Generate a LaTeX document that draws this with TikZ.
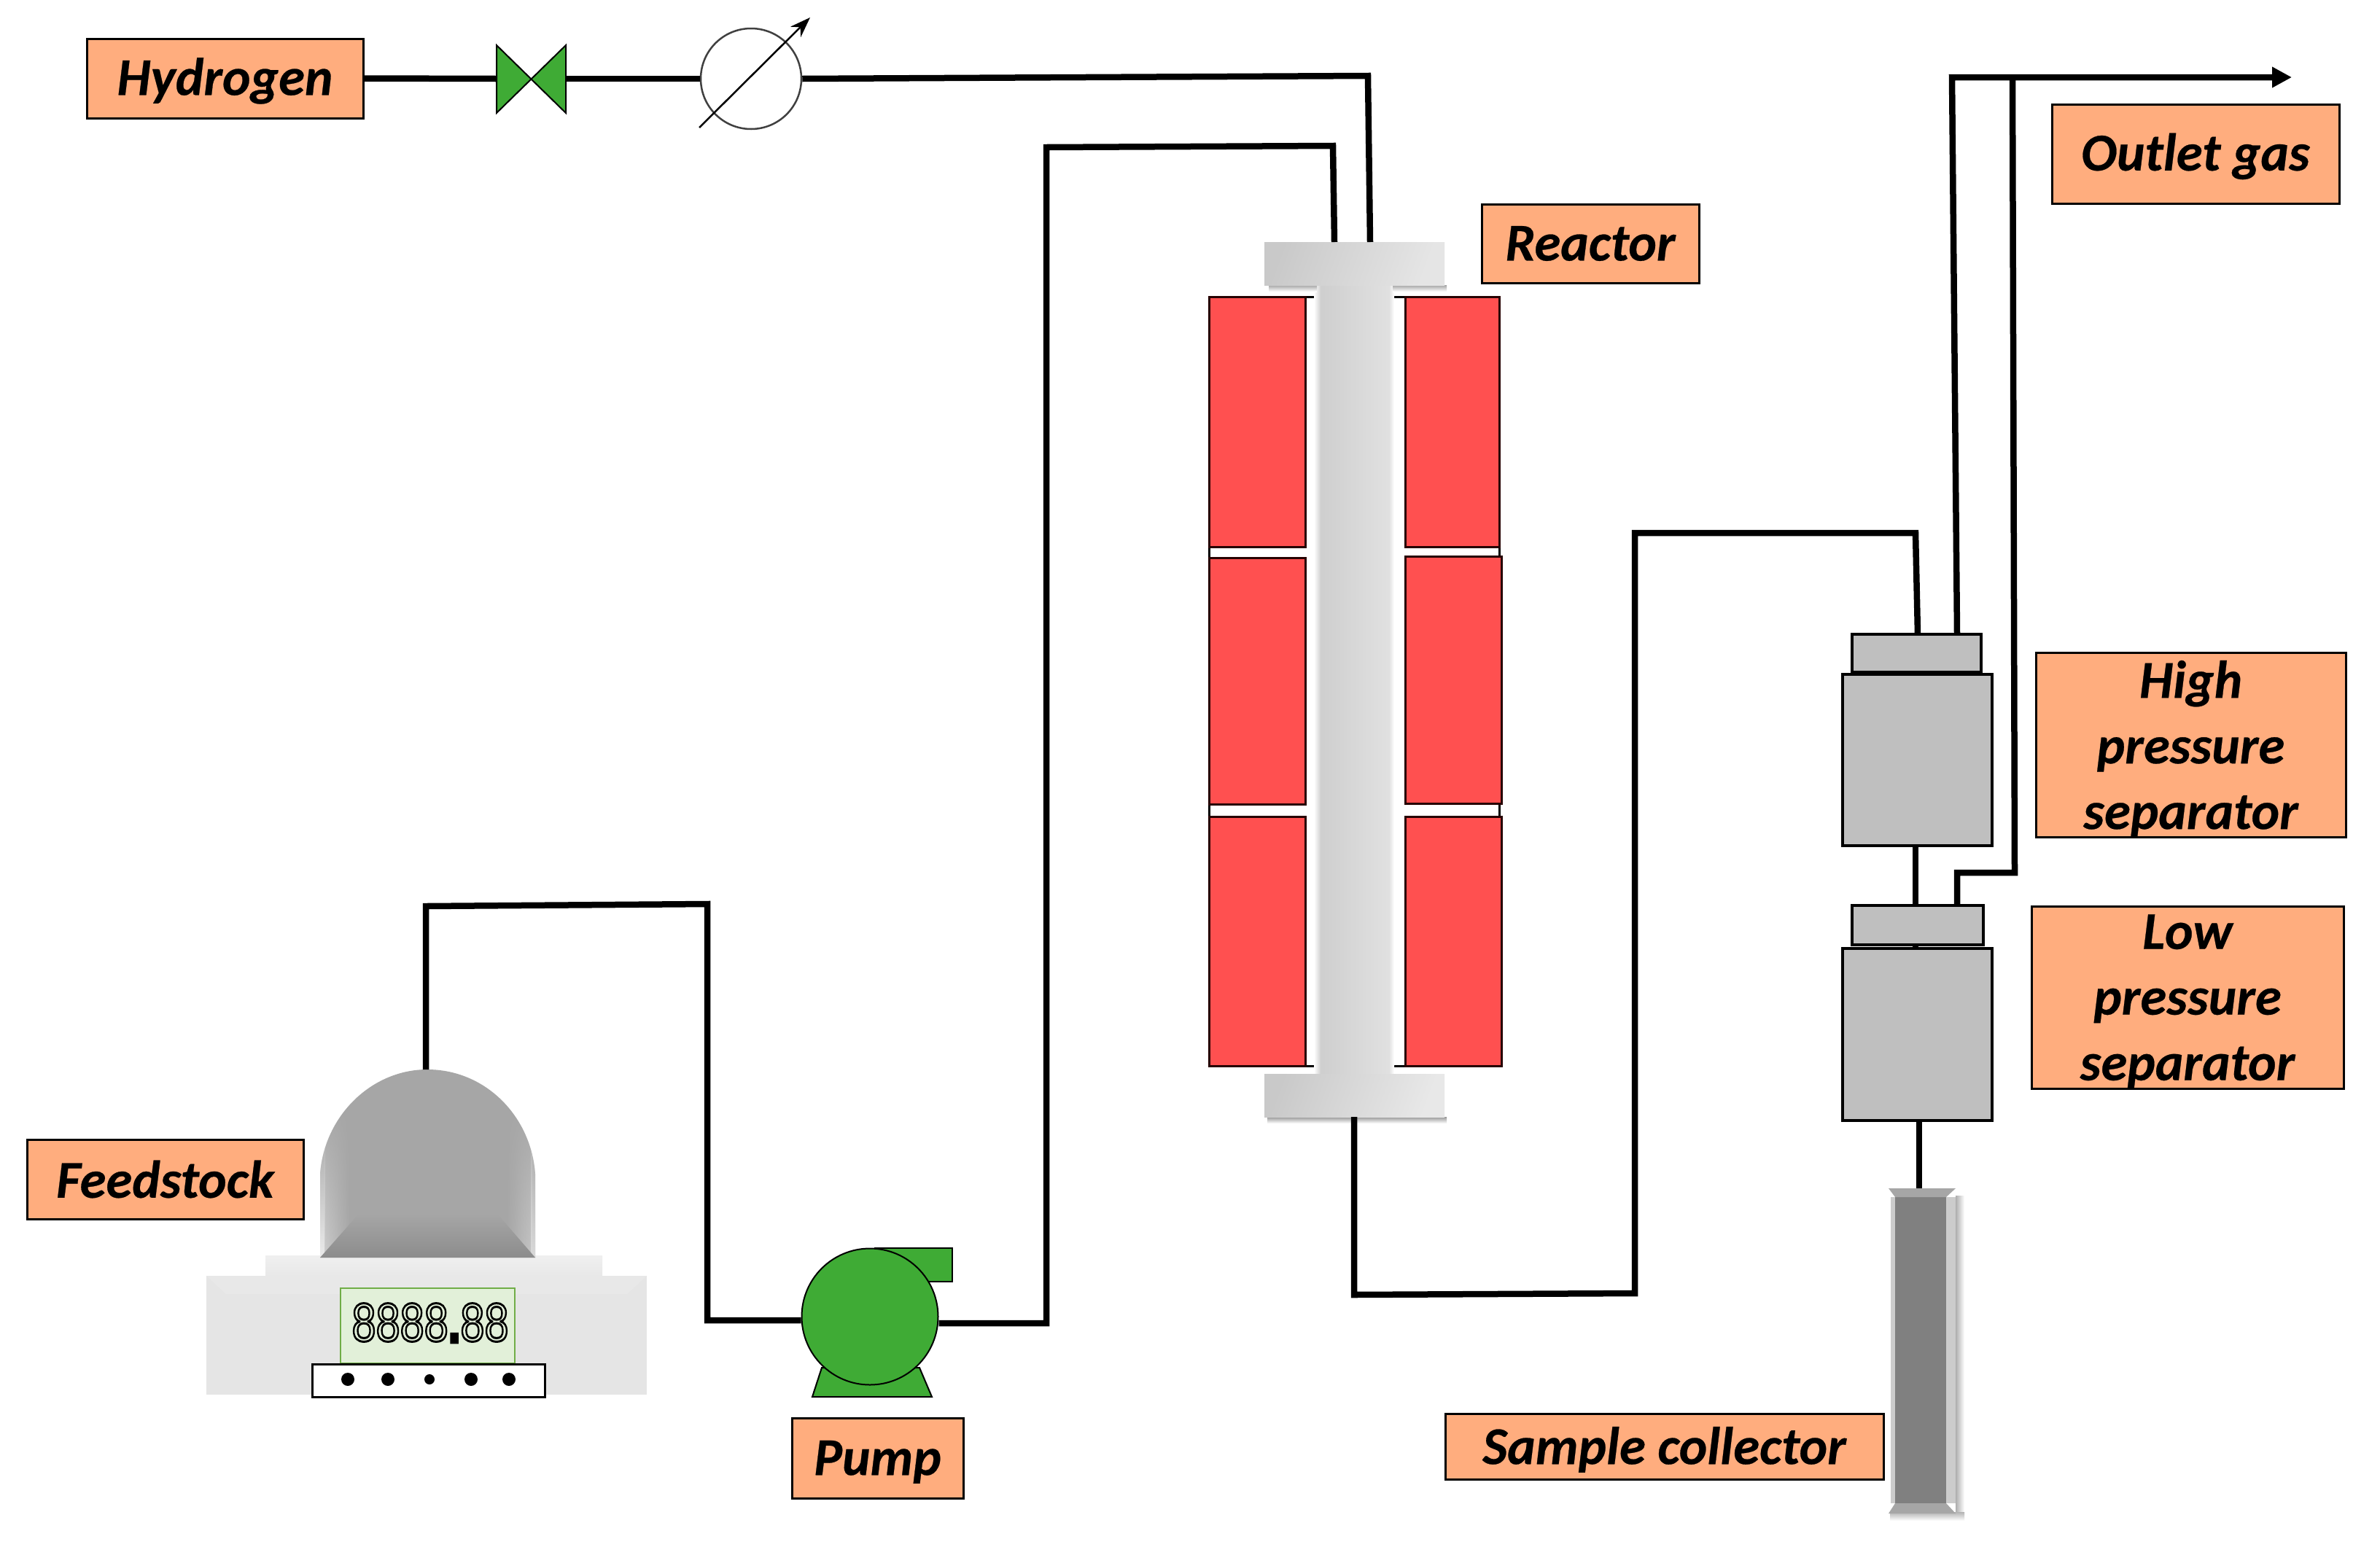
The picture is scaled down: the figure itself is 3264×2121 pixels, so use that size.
\documentclass[tikz,border=0pt]{standalone}
\usepackage{fontspec}
\usepackage{graphicx}
\setmainfont{Carlito}[BoldItalicFeatures={FakeBold=0.35}]
\newfontfamily\lcdfont{Liberation Sans}
\usetikzlibrary{arrows.meta,fit,calc,shapes.geometric,fadings}
\definecolor{labelfill}{HTML}{FFAD7E}
\definecolor{heater}{HTML}{FF5050}
\definecolor{greenpart}{HTML}{3FAB35}
\definecolor{sepgray}{HTML}{BFBFBF}
\definecolor{tankgray}{HTML}{A6A6A6}
\tikzset{
  lab/.style={draw=black,line width=3pt,fill=labelfill,inner sep=0pt,align=center,
     font=\fontsize{73}{90}\selectfont\bfseries\itshape},
  pipe/.style={draw=black,line width=8.5pt,line cap=butt,line join=miter},
  heat/.style={draw=black!85!red,line width=3pt,fill=heater,inner sep=0pt},
  sep/.style={draw=black,line width=4pt,fill=sepgray,inner sep=0pt},
  thin part/.style={draw=black,line width=2pt,fill=greenpart},
  plain/.style={inner sep=0pt,draw=none},
}
% label box given by its corners: name, x1, y1, x2, y2, first-line strut height, text
\newcommand{\labbox}[7]{%
  \pgfmathsetmacro{\lw}{#4-#2}\pgfmathsetmacro{\lh}{#5-#3}%
  \pgfmathsetmacro{\lx}{(#2+#4)/2}\pgfmathsetmacro{\ly}{(#3+#5)/2}%
  \node[lab,minimum width=\lw pt,minimum height=\lh pt] (#1) at (\lx,\ly) {\rule{0pt}{#6pt}#7};}
\begin{document}
\begin{tikzpicture}[x=1pt,y=-1pt]
\useasboundingbox (0,0) rectangle (3264,2121);
\fill[white] (0,0) rectangle (3264,2121);

% ---- labels
\labbox{hyd}{119}{53}{498}{162}{58}{Hydrogen}
\labbox{outlet}{2814}{143}{3208}{279}{58}{Outlet gas}
\labbox{reactorlabel}{2032}{280}{2330}{388}{0}{Reactor}
\labbox{hplabel}{2792}{895}{3217}{1148}{0}{High\\pressure\\\smash{separator}}
\labbox{lplabel}{2786}{1243}{3214}{1493}{0}{Low\\pressure\\\smash{separator}}
\labbox{feedlabel}{37}{1563}{416}{1672}{0}{Feedstock}
\labbox{pumplabel}{1086}{1945}{1321}{2055}{58}{Pump}
\labbox{samplelabel}{1982}{1939}{2583}{2029}{60}{Sample collector}

% ---- reactor
\draw[draw=black,line width=3pt,fill=white] (1658,407) rectangle (2056,1462);
\node[heat,fit={(1658,407)(1790,750)}] (h1) {};
\node[heat,fit={(1658,765)(1790,1103)}] (h2) {};
\node[heat,fit={(1658,1120)(1790,1462)}] (h3) {};
\node[heat,fit={(1927,407)(2056,750)}] (h4) {};
\node[heat,fit={(1927,763)(2059,1102)}] (h5) {};
\node[heat,fit={(1927,1120)(2059,1462)}] (h6) {};
\fill[white] (1792,409) rectangle (1925,1460);
\shade[left color=white,right color=black!18] (1802,391) rectangle (1811,1474);
\shade[left color=black!19,right color=black!12] (1811,391) rectangle (1905,1474);
\shade[left color=black!12,right color=white] (1905,391) rectangle (1912,1474);
\shade[top color=black!35,bottom color=white] (1740,391) rectangle (1806,400);
\shade[top color=black!35,bottom color=white] (1910,391) rectangle (1984,400);
\node[plain,left color=black!21,right color=black!10,shading angle=70,fit={(1734,332)(1981,391)}] (rtop) {};
\shade[top color=black!40,bottom color=white] (1738,1532) rectangle (1984,1541);
\node[plain,left color=black!21,right color=black!9,shading angle=70,fit={(1734,1473)(1981,1532)}] (rbot) {};

% ---- hydrogen line equipment
\coordinate (valvec) at (728,108);
\fill[greenpart,draw=black,line width=2pt] (681,62) -- (776,155) -- (776,62) -- (681,155) -- cycle;
\coordinate (valvew) at (681,108);
\coordinate (valvee) at (776,108);
\node[circle,draw=black!75,line width=2.5pt,minimum size=138pt,inner sep=0pt] (gauge) at (1030,108) {};
\coordinate (gaugeA) at (959,175);
\coordinate (gaugeB) at (1111,24);
\draw[black,line width=2.5pt,-{Stealth[length=28pt,width=20pt]}] (gaugeA) -- (gaugeB);

% ---- scale and tank
\shade[top color=black!6,bottom color=black!9] (364,1722) rectangle (826,1750);
\fill[black!10] (283,1750) rectangle (887,1913);
\fill[black!9] (283,1750) -- (887,1750) -- (860,1775) -- (310,1775) -- cycle;
\begin{scope}
\clip (439,1725) -- (439,1610) .. controls (445,1530) and (510,1467) .. (586,1467)
  .. controls (665,1467) and (728,1530) .. (734,1610) -- (734,1725) -- cycle;
\fill[tankgray] (430,1460) rectangle (740,1730);
\fill[black!8,path fading=north] (439,1540) rectangle (446,1725);
\shade[left color=black!20,right color=tankgray,path fading=north] (445,1510) rectangle (480,1725);
\shade[left color=tankgray,right color=black!22,path fading=north] (695,1510) rectangle (730,1725);
\fill[black!15,path fading=north] (728,1540) rectangle (734,1725);
\shade[top color=tankgray,bottom color=black!45] (439,1725) -- (492,1665) -- (682,1665) -- (734,1725) -- cycle;
\end{scope}
\coordinate (tanktop) at (584,1467);
\node[draw={rgb,255:red,112;green,173;blue,71},line width=2pt,fill={rgb,255:red,226;green,240;blue,217},inner sep=0pt,fit={(467,1767)(706,1870)}] (display) {};
\node[inner sep=0pt,text=black] (digits) at (590,1814) {\special{pdf:code 1 Tr 0.4 w}\resizebox{215pt}{52pt}{\lcdfont 8888\special{pdf:code 2 Tr 1 w}.\special{pdf:code 1 Tr 0.4 w}88}\special{pdf:code 0 Tr}};
\node[draw=black,line width=3pt,fill=white,inner sep=0pt,fit={(428,1871)(747,1916)}] (keys) {};
\foreach \kx/\kd [count=\ki] in {477/18,532/18,589/14,646/18,698/18}
  \node[circle,fill=black,minimum size=\kd pt,inner sep=0pt] (key\ki) at (\kx,1892) {};

% ---- pump
\draw[thin part] (1127,1876) -- (1261,1876) -- (1278,1916) -- (1114,1916) -- cycle;
\draw[thin part] (1200,1712) -- (1306,1712) -- (1306,1758) -- (1200,1758) -- cycle;
\node[circle,thin part,minimum size=187pt,inner sep=0pt] (pump) at (1193,1806) {};

% ---- separators
\node[sep,fit={(2540,870)(2717,922)}] (hpcap) {};
\node[sep,fit={(2527,925)(2732,1160)}] (hpbody) {};
\node[sep,fit={(2540,1242)(2720,1296)}] (lpcap) {};
\node[sep,fit={(2527,1301)(2732,1537)}] (lpbody) {};

% ---- sample collector
\shade[left color=black!32,right color=white] (2682,1640) rectangle (2694,2076);
\shade[top color=black!30,bottom color=white] (2592,2074) rectangle (2694,2086);
\fill[black!20] (2593,1642) rectangle (2682,2062);
\fill[black!50] (2599,1642) rectangle (2669,2062);
\fill[black!35] (2590,1630) -- (2682,1630) -- (2669,1642) -- (2599,1642) -- cycle;
\fill[black!35] (2599,2062) -- (2669,2062) -- (2682,2076) -- (2590,2076) -- cycle;
\coordinate (colltop) at (2632,1630);

% ---- pipe waypoints
\coordinate (rin1) at (1879,332);
\coordinate (rin2) at (1830,332);
\coordinate (a1) at (1876,104);
\coordinate (a2) at (1828,200);
\coordinate (a3) at (1435,202);
\coordinate (a4) at (1435,1815);
\coordinate (b1) at (970,1811);
\coordinate (b2) at (970,1240);
\coordinate (b3) at (584,1243);
\coordinate (c0) at (1857,1532);
\coordinate (c1) at (1857,1776);
\coordinate (c2) at (2242,1774);
\coordinate (c3) at (2242,731);
\coordinate (c4) at (2627,731);
\coordinate (c5) at (2630,870);
\coordinate (d0) at (2684,870);
\coordinate (d1) at (2677,106);
\coordinate (d2) at (3143,106);
\coordinate (e0) at (2684,1242);
\coordinate (e1) at (2684,1197);
\coordinate (e2) at (2763,1197);
\coordinate (e3) at (2760,106);
\coordinate (f0) at (2627,1160);
\coordinate (f1) at (2627,1242);
\coordinate (f2) at (2627,1296);
\coordinate (f3) at (2627,1301);
\coordinate (g0) at (2632,1537);

% ---- connectors
\draw[pipe] (hyd.east) -- (valvew);
\draw[pipe] (valvee) -- (gauge.west);
\draw[pipe] (gauge.east) -- (a1) -- (rin1);
\draw[pipe] (rin2) -- (a2) -- (a3) -- (a4) -- (pump.east |- a4);
\draw[pipe] (pump.west |- b1) -- (b1) -- (b2) -- (b3) -- (tanktop);
\draw[pipe] (c0) -- (c1) -- (c2) -- (c3) -- (c4) -- (c5);
\draw[pipe,-{Stealth[length=27pt,width=27pt,inset=0pt]}] (d0) -- (d1) -- (d2);
\draw[pipe] (e0) -- (e1) -- (e2) -- (e3);
\draw[pipe] (f0) -- (f1);
\draw[pipe] (f2) -- (f3);
\draw[pipe] (g0) -- (colltop);
\end{tikzpicture}
\end{document}
